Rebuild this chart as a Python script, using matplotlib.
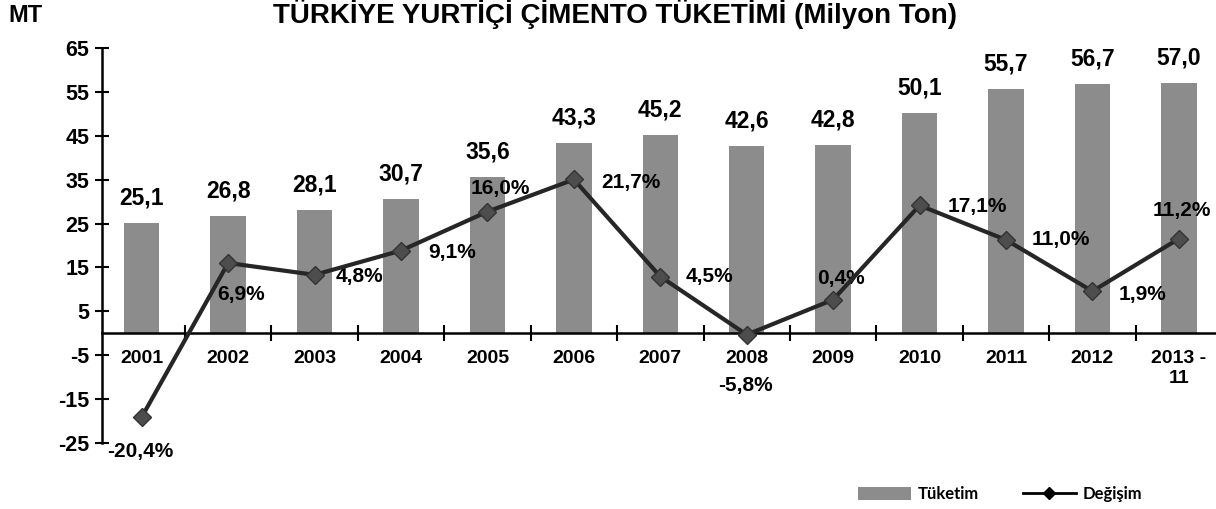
import matplotlib
matplotlib.use("Agg")
import matplotlib.pyplot as plt
from matplotlib.lines import Line2D
from matplotlib.patches import Patch

plt.rcParams['font.family'] = ['Liberation Sans', 'DejaVu Sans']
plt.rcParams['font.weight'] = 'bold'
plt.rcParams['axes.unicode_minus'] = False

# data
years = ["2001", "2002", "2003", "2004", "2005", "2006", "2007",
         "2008", "2009", "2010", "2011", "2012", "2013 -\n11"]
tuketim = [25.1, 26.8, 28.1, 30.7, 35.6, 43.3, 45.2, 42.6, 42.8, 50.1, 55.7, 56.7, 57.0]
degisim = [-20.4, 6.9, 4.8, 9.1, 16.0, 21.7, 4.5, -5.8, 0.4, 17.1, 11.0, 1.9, 11.2]

# where each % label sits relative to its point (pixels, x right / y up)
pct_offsets = [(-2, -34), (13, -32), (45, -2), (51, -2), (13, 23), (57, -3), (49, 0),
               (-1, -51), (8, 21), (58, -1), (55, 0), (50, -3), (3, 28)]

fmt = lambda v: f"{v:.1f}".replace('.', ',')
PX = 0.72  # pixel -> point at dpi 100

fig = plt.figure(figsize=(12.16, 5.09), dpi=100)
fig.patch.set_facecolor('white')
ax = fig.add_axes([102 / 1216, 1 - 443 / 509, 1114 / 1216, 395 / 509])
x = list(range(len(years)))

bar_color = '#8c8c8c'
ax.bar(x, tuketim, width=0.41, color=bar_color, zorder=2)
for i, v in enumerate(tuketim):
    ax.annotate(fmt(v), (i, v), xytext=(0, 25 * PX), textcoords='offset points',
                ha='center', va='center', fontsize=16.5, fontweight='bold')

ax.set_xlim(-0.46, 12.43)
ax.set_ylim(-25, 65)
ax.set_yticks(range(-25, 66, 10))
ax.tick_params(axis='y', direction='inout', length=10, width=1.5, labelsize=15.5, pad=4)

ax.set_xticks(x)
ax.set_xticklabels(years, linespacing=1.25)
ax.tick_params(axis='x', which='major', length=0, pad=12, labelsize=14)
ax.set_xticks([i + 0.5 for i in x[:-1]], minor=True)
ax.tick_params(axis='x', which='minor', direction='inout', length=11, width=1.5)

for s in ['top', 'right']:
    ax.spines[s].set_visible(False)
ax.spines['bottom'].set_position(('data', 0))
ax.spines['bottom'].set_linewidth(1.8)
ax.spines['left'].set_linewidth(1.8)
ax.spines['bottom'].set_zorder(3)

# percent change on a hidden second scale
ax2 = ax.twinx()
ax2.set_ylim(-25, 45)
ax2.axis('off')
ax2.plot(x, degisim, color='#262626', lw=3, marker='D', markersize=9,
         markerfacecolor='#4d4d4d', markeredgecolor='#333333', zorder=4)
for i, v in enumerate(degisim):
    dx, dy = pct_offsets[i]
    ax2.annotate(fmt(v) + '%', (i, v), xytext=(dx * PX, dy * PX), textcoords='offset points',
                 ha='center', va='center', fontsize=15, fontweight='bold')

fig.text(615 / 1216, 1 - 14 / 509, "TÜRKİYE YURTİÇİ ÇİMENTO TÜKETİMİ (Milyon Ton)",
         ha='center', va='center', fontsize=20, fontweight='bold')
fig.text(8 / 1216, 1 - 16 / 509, "MT", ha='left', va='center', fontsize=17, fontweight='bold')

handles = [Patch(facecolor=bar_color, edgecolor='none'),
           Line2D([], [], color='black', lw=2, marker='D', markersize=6)]
fig.legend(handles, ["Tüketim", "Değişim"], loc='center left',
           bbox_to_anchor=(858 / 1216, 1 - 494 / 509), ncol=2, frameon=False,
           prop={'family': 'Lato', 'weight': 'bold', 'size': 12},
           handlelength=3.2, handleheight=0.8, handletextpad=0.4, columnspacing=2.6,
           borderpad=0, borderaxespad=0)

fig.savefig("out.png", dpi=100, facecolor='white')
